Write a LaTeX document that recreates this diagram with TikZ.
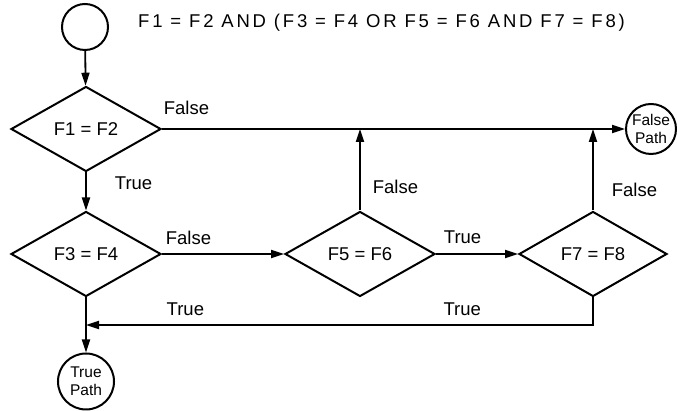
\documentclass[tikz,border=0pt]{standalone}
\usepackage{fontspec}
\setmainfont{Liberation Sans}
\usetikzlibrary{shapes.geometric, positioning, arrows.meta}

\begin{document}
\begin{tikzpicture}[x=1pt, y=1pt,
  every node/.append style={font=\fontsize{18.5}{22}\selectfont},
  test/.style={diamond, draw, line width=2pt, aspect=1.76, inner sep=0pt,
    minimum width=150pt, minimum height=85pt},
  term/.style={circle, draw, line width=2pt, inner sep=0pt, align=center,
    font=\fontsize{15.5}{18}\selectfont},
  flow/.style={line width=1.8pt, -{Triangle[length=13pt, width=8pt]}},
  lbl/.style={inner sep=0pt}]
\useasboundingbox (0,0) rectangle (677,411);

\node[term, minimum size=46pt] (start) at (85,384) {};
\node[lbl, anchor=base west] (expr) at (138,383)
    {\addfontfeature{LetterSpace=15}F1 = F2 AND (F3 = F4 OR F5 = F6 AND F7 = F8)};

\node[test] (t12) at (86,282) {F1 = F2};
\node[test, below=38pt of t12] (t34) {F3 = F4};
\node[test, right=122pt of t34] (t56) {F5 = F6};
\node[test, right=82pt of t56, minimum width=148pt] (t78) {F7 = F8};
\node[term, minimum size=50pt] (fpath) at (651,282) {False\\Path};
\node[term, minimum size=56pt, below=55pt of t34] (tpath) {True\\Path};
\coordinate (join) at (t34 |- 0,86);

\draw[flow] (start) -- (t12);
\draw[flow] (t12) -- node[lbl, pos=0.27, right=28pt]{True} (t34);
\draw[flow] (t12) -- node[lbl, pos=0, above right=13pt and 1pt]{False} (fpath);
\draw[flow] (t34) -- node[lbl, pos=0, above right=8pt and 3pt]{False} (t56);
\draw[flow] (t56) -- node[lbl, pos=0, above right=9pt and 7pt]{True} (t78);
\draw[flow] (t56) -- node[lbl, pos=0.29, right=12pt]{False} (t56 |- t12);
\draw[flow] (t78) -- node[lbl, pos=0.25, right=18pt]{False} (t78 |- t12);
\draw[flow] (t78) |- node[lbl, pos=0.629, above=8pt]{True}
    node[lbl, pos=0.902, above=8pt]{True} (join);
\draw[flow] (t34) -- (tpath);
\end{tikzpicture}
\end{document}
